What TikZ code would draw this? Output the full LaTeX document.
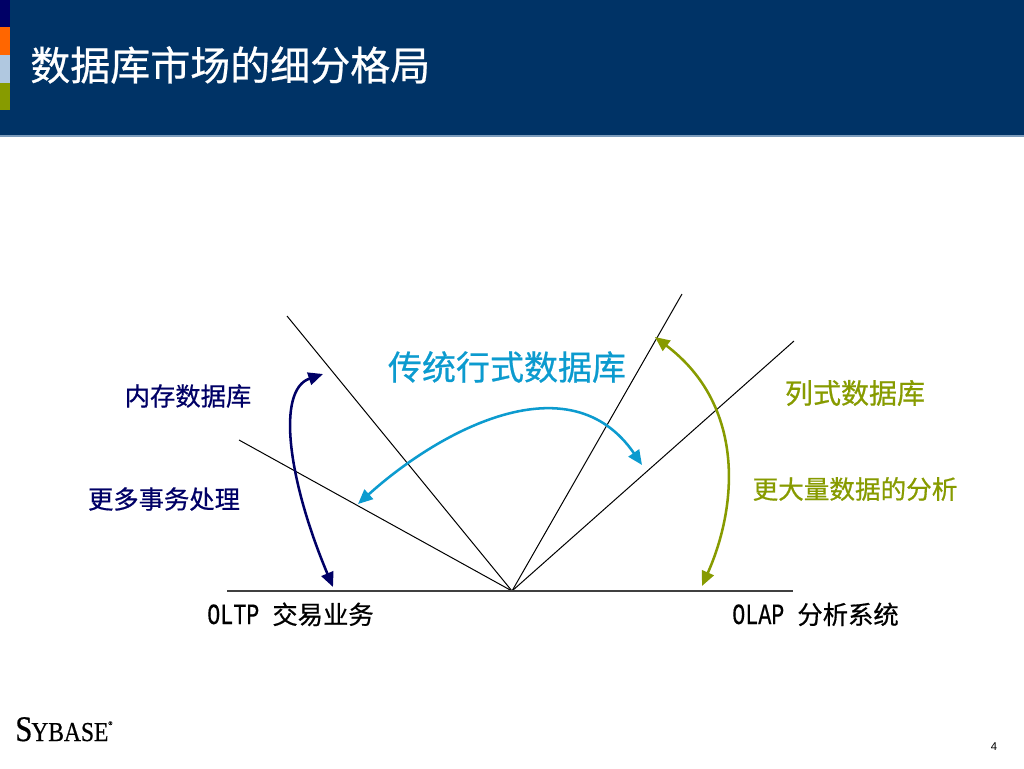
\documentclass[tikz,border=0pt]{standalone}
\usepackage{fontspec}
\usepackage{graphicx}
\setmainfont{Liberation Sans}
\newfontfamily\cjk[FakeBold=0.6]{Noto Sans CJK SC}
\newfontfamily\logofont[FakeBold=0.5]{Liberation Serif}
\newfontfamily\narrowmono[FakeStretch=0.74,FakeBold=0.4]{Liberation Mono}
\usetikzlibrary{arrows.meta}
\definecolor{navyhead}{HTML}{003366}
\definecolor{dknavy}{HTML}{000066}
\definecolor{sborange}{HTML}{FF6600}
\definecolor{sbblue}{HTML}{B0C8E0}
\definecolor{sbolive}{HTML}{879B00}
\definecolor{sbcyan}{HTML}{0C9BCF}
\tikzset{
  lbl/.style={inner sep=0pt,anchor=center},
  ray/.style={draw=black,line width=0.75pt},
  curvearrow/.style={line width=1.9pt,{Triangle[length=11pt,width=9.5pt]}-{Triangle[length=11pt,width=9.5pt]}},
  every node/.append style={inner sep=0pt}
}
\begin{document}
\begin{tikzpicture}[x=0.75pt,y=-0.75pt]
\useasboundingbox (0,0) rectangle (1024,768);
\fill[white] (0,0) rectangle (1024,768);
% header
\fill[navyhead] (0,0) rectangle (1024,135);
\fill[sbblue!70!navyhead] (0,135) rectangle (1024,137);
\fill[dknavy] (0,0) rectangle (10,27);
\fill[sborange] (0,27) rectangle (10,55);
\fill[sbblue] (0,55) rectangle (10,83);
\fill[sbolive] (0,83) rectangle (10,110);
\node[lbl,anchor=west,text=white,font=\cjk\fontsize{30}{34}\selectfont] (title) at (30,65) {数据库市场的细分格局};
% rays
\coordinate (o) at (512,591);
\coordinate (a1) at (287,316);
\coordinate (a2) at (239,440);
\coordinate (a3) at (682,294);
\coordinate (a4) at (794,341);
\coordinate (bl) at (227,591);
\coordinate (br) at (793,591);
\draw[ray] (o) -- (a1);
\draw[ray] (o) -- (a2);
\draw[ray] (o) -- (a3);
\draw[ray] (o) -- (a4);
\draw[draw=black!75,line width=1pt] (bl) -- (br);
% curved arrows
\coordinate (n1) at (323,374);
\coordinate (n2) at (333,587);
\draw[curvearrow,draw=dknavy,color=dknavy] (n1) .. controls (276,390) and (288,480) .. (n2);
\coordinate (c1) at (358,504);
\coordinate (c2) at (642,465);
\draw[curvearrow,draw=sbcyan,color=sbcyan] (c1) .. controls (440,430) and (570,360) .. (c2);
\coordinate (g1) at (655,337);
\coordinate (g2) at (702,586);
\draw[curvearrow,draw=sbolive,color=sbolive] (g1) .. controls (745,405) and (738,505) .. (g2);
% labels
\node[lbl,text=sbcyan,font=\cjk\fontsize{25.5}{30}\selectfont] (t1) at (507,367) {传统行式数据库};
\node[lbl,text=dknavy,font=\cjk\fontsize{19}{24}\selectfont] (t2) at (188,396) {内存数据库};
\node[lbl,text=dknavy,font=\cjk\fontsize{19}{24}\selectfont] (t3) at (164,499) {更多事务处理};
\node[lbl,text=sbolive,font=\cjk\fontsize{21}{26}\selectfont] (t4) at (855,393) {列式数据库};
\node[lbl,text=sbolive,font=\cjk\fontsize{19.2}{24}\selectfont] (t5) at (855,489) {更大量数据的分析};
\node[lbl,anchor=base west,text=black,font=\fontsize{19}{24}\selectfont] (t6) at (207,624) {{\narrowmono\fontsize{22}{24}\selectfont OLTP\ }{\cjk 交易业务}};
\node[lbl,anchor=base west,text=black,font=\fontsize{19}{24}\selectfont] (t7) at (732,624) {{\narrowmono\fontsize{22}{24}\selectfont OLAP\ }{\cjk 分析系统}};
% logo
\node[lbl,anchor=base west,text=black,font=\logofont] (logo) at (15,741) {\scalebox{0.86}[1]{{\fontsize{27}{30}\selectfont S}\kern-1pt{\fontsize{20.5}{24}\selectfont YBASE}}\raisebox{12pt}{\fontsize{4}{5}\selectfont ®}};
\node[lbl,text=black,font=\fontsize{8.5}{10}\selectfont] (pg) at (994,747) {4};
\end{tikzpicture}
\end{document}
